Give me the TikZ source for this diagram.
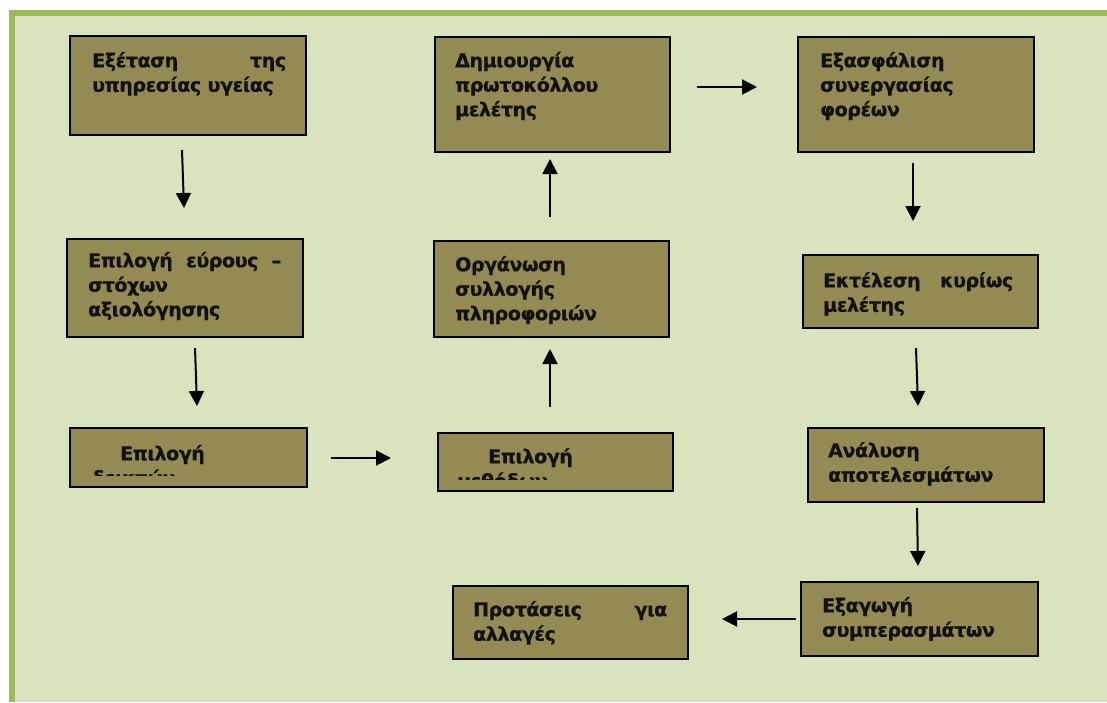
\documentclass[tikz,border=0pt]{standalone}
\usepackage{fontspec}
\newfontfamily\boxfont{DejaVu Sans Bold}[FakeBold=0.8, LetterSpace=-2]
\usetikzlibrary{arrows.meta,calc}
\definecolor{bgfill}{HTML}{D7E4BD}
\definecolor{frame}{HTML}{9BBB59}
\definecolor{boxfill}{HTML}{948A54}
\definecolor{ink}{HTML}{111111}
\tikzset{
  box/.style={draw=black, line width=2pt, fill=boxfill, rectangle, inner sep=0pt, anchor=north west},
  txt/.style={anchor=north west, yshift=17.15pt, inner sep=0pt, align=left, text=ink,
    font=\boxfont\fontsize{19}{24.5}\selectfont, execute at begin node=\strut},
  arr/.style={line width=2pt, draw=black, -{Triangle[length=15pt,width=15pt]}}
}
\begin{document}
\begin{tikzpicture}[x=1pt,y=-1pt]
\useasboundingbox (0,0) rectangle (1107,702);
\fill[white] (0,0) rectangle (1107,702);
\fill[bgfill] (9,10) rectangle (1107,702);
\fill[frame] (9,10) rectangle (1107,16);
\fill[frame] (9,10) rectangle (15,702);

% boxes
\node[box, minimum width=236pt, minimum height=99pt] (b1) at (69,35) {};
\node[box, minimum width=236pt, minimum height=98pt] (b2) at (66,238) {};
\node[box, minimum width=237pt, minimum height=59pt] (b3) at (69,427) {};
\node[box, minimum width=235pt, minimum height=58pt] (b4) at (437,432) {};
\node[box, minimum width=235pt, minimum height=96pt] (b5) at (433,240) {};
\node[box, minimum width=235pt, minimum height=115pt] (b6) at (434,36) {};
\node[box, minimum width=236pt, minimum height=115pt] (b7) at (797,36) {};
\node[box, minimum width=235pt, minimum height=73pt] (b8) at (802,254) {};
\node[box, minimum width=236pt, minimum height=74pt] (b9) at (807,427) {};
\node[box, minimum width=237pt, minimum height=74pt] (b10) at (800,581) {};
\node[box, minimum width=235pt, minimum height=73pt] (b11) at (452,585) {};

% texts
\node[txt, text width=194pt] (t1) at (92,67) {Εξέταση\hfill της\\υπηρεσίας υγείας};
\node[txt, text width=193pt] (t2) at (88,267) {Επιλογή\hfill εύρους\hfill –\\στόχων\\αξιολόγησης};
\begin{scope}
  \clip (69,427) rectangle (306,475);
  \node[txt, text width=200pt] (t3) at (92,460) {\hspace*{28pt}Επιλογή\\δεικτών};
\end{scope}
\begin{scope}
  \clip (437,432) rectangle (672,479);
  \node[txt, text width=200pt] (t4) at (457,463) {\hspace*{31pt}Επιλογή\\μεθόδων};
\end{scope}
\node[txt, text width=200pt] (t5) at (455,271) {Οργάνωση\\συλλογής\\πληροφοριών};
\node[txt, text width=200pt] (t6) at (455,67) {Δημιουργία\\πρωτοκόλλου\\μελέτης};
\node[txt, text width=200pt] (t7) at (820,67) {Εξασφάλιση\\συνεργασίας\\φορέων};
\node[txt, text width=190pt] (t8) at (823,287) {Εκτέλεση\hfill κυρίως\\μελέτης};
\node[txt, text width=200pt] (t9) at (828,457) {Ανάλυση\\αποτελεσμάτων};
\node[txt, text width=200pt] (t10) at (822,612) {Εξαγωγή\\συμπερασμάτων};
\node[txt, text width=194pt] (t11) at (473,616) {Προτάσεις\hfill για\\αλλαγές};

% arrow end points
\coordinate (a1s) at (182,150); \coordinate (a1e) at (184,208);
\coordinate (a2s) at (195,348); \coordinate (a2e) at (197,406);
\coordinate (a3s) at (331,458); \coordinate (a3e) at (391,458);
\coordinate (a4s) at (550,407); \coordinate (a4e) at (550,349);
\coordinate (a5s) at (550,217); \coordinate (a5e) at (550,159);
\coordinate (a6s) at (697,87);  \coordinate (a6e) at (757,87);
\coordinate (a7s) at (913,163); \coordinate (a7e) at (913,221);
\coordinate (a8s) at (916,348); \coordinate (a8e) at (918,406);
\coordinate (a9s) at (917,508); \coordinate (a9e) at (918,566);
\coordinate (a10s) at (796,619); \coordinate (a10e) at (722,619);

\draw[arr] (a1s) -- (a1e);
\draw[arr] (a2s) -- (a2e);
\draw[arr] (a3s) -- (a3e);
\draw[arr] (a4s) -- (a4e);
\draw[arr] (a5s) -- (a5e);
\draw[arr] (a6s) -- (a6e);
\draw[arr] (a7s) -- (a7e);
\draw[arr] (a8s) -- (a8e);
\draw[arr] (a9s) -- (a9e);
\draw[arr] (a10s) -- (a10e);
\end{tikzpicture}
\end{document}
